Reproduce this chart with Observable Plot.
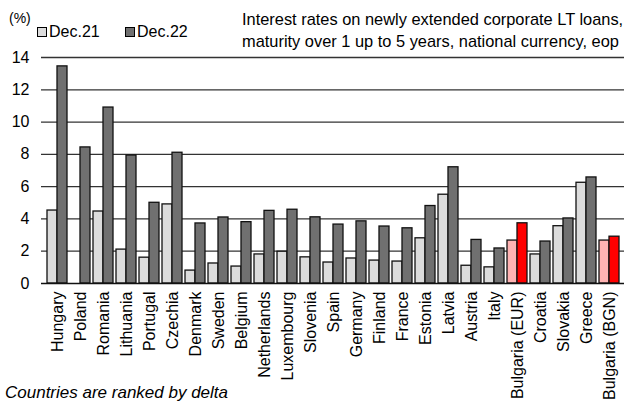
<!DOCTYPE html>
<html>
<head>
<meta charset="utf-8">
<script src="https://cdn.jsdelivr.net/npm/d3@7"></script>
<script src="https://cdn.jsdelivr.net/npm/@observablehq/plot@0.6"></script>
<style>
  html, body { margin: 0; padding: 0; background: #fff; }
  #wrap { position: relative; width: 628px; height: 406px; overflow: hidden; font-family: "Liberation Sans", Arial, sans-serif; color: #000; }
  #wrap svg { position: absolute; left: 0; top: 0; }
  .t { position: absolute; white-space: nowrap; font-size: 16px; line-height: 1; }
  .sw { position: absolute; width: 8px; height: 8px; border: 1px solid #000; }
</style>
</head>
<body>
<div id="wrap">
  <div class="t" style="left:9px; top:11px; font-size:14px;">(%)</div>
  <div class="sw" style="left:37px; top:27px; background:#dcdcdc;"></div>
  <div class="t" style="left:49px; top:24px;">Dec.21</div>
  <div class="sw" style="left:125px; top:27px; background:#707070;"></div>
  <div class="t" style="left:137px; top:24px;">Dec.22</div>
  <div class="t" style="left:242px; top:11px; font-size:16.4px;">Interest rates on newly extended corporate LT loans,</div>
  <div class="t" style="left:242px; top:33px; font-size:16.4px;">maturity over 1 up to 5 years, national currency, eop</div>
  <div class="t" style="left:5px; top:384px; font-size:17px; font-style:italic;">Countries are ranked by delta</div>
</div>
<script>
const countries = ["Hungary","Poland","Romania","Lithuania","Portugal","Czechia","Denmark","Sweden","Belgium","Netherlands","Luxembourg","Slovenia","Spain","Germany","Finland","France","Estonia","Latvia","Austria","Italy","Bulgaria (EUR)","Croatia","Slovakia","Greece","Bulgaria (BGN)"];
const dec21 = [4.52, 0, 4.46, 2.1, 1.6, 4.9, 0.8, 1.24, 1.05, 1.8, 1.97, 1.62, 1.3, 1.55, 1.42, 1.36, 2.8, 5.5, 1.1, 1.0, 2.66, 1.8, 3.55, 6.24, 2.66];
const dec22 = [13.45, 8.43, 10.9, 7.93, 5.0, 8.1, 3.72, 4.09, 3.8, 4.5, 4.57, 4.1, 3.65, 3.85, 3.53, 3.42, 4.8, 7.2, 2.7, 2.17, 3.73, 2.6, 4.03, 6.57, 2.9];
const yTicks = [0, 2, 4, 6, 8, 10, 12, 14];

const rows21 = countries.map((c, i) => ({country: c, value: dec21[i], red: c.startsWith("Bulgaria")}));
const rows22 = countries.map((c, i) => ({country: c, value: dec22[i], red: c.startsWith("Bulgaria")}));

const chart = Plot.plot({
  width: 628,
  height: 406,
  marginTop: 57,
  marginBottom: 123,
  marginLeft: 41,
  marginRight: 4,
  style: {fontFamily: "'Liberation Sans', Arial, sans-serif", fontSize: "16px", color: "#000", background: "transparent"},
  x: {domain: countries, paddingInner: 0.14, paddingOuter: 0.07, label: null, tickSize: 0, tickRotate: -90, tickPadding: 8},
  y: {domain: [0, 14], ticks: yTicks, label: null, tickSize: 0, tickPadding: 12},
  marks: [
    Plot.ruleY(yTicks.filter(d => d > 0), {stroke: "#333", strokeWidth: 1.3}),
    Plot.barY(rows21.filter(d => d.value > 0), {x: "country", y: "value", insetRight: 10, fill: d => d.red ? "#ffb3b3" : "#dcdcdc", stroke: "#111", strokeWidth: 1.3}),
    Plot.barY(rows22, {x: "country", y: "value", insetLeft: 10, fill: d => d.red ? "#ff0000" : "#707070", stroke: "#111", strokeWidth: 1.3}),
    Plot.ruleY([0], {stroke: "#111", strokeWidth: 1.5})
  ]
});
document.getElementById("wrap").prepend(chart);
</script>
</body>
</html>
